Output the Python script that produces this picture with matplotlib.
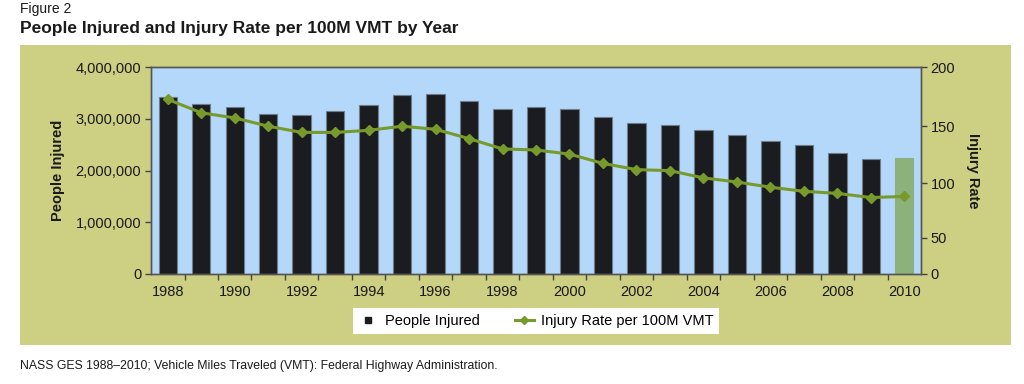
import matplotlib
matplotlib.use('Agg')
import matplotlib.pyplot as plt
from matplotlib.patches import Rectangle
from matplotlib.lines import Line2D
from matplotlib.ticker import FuncFormatter

plt.rcParams['font.family'] = ['Liberation Sans', 'DejaVu Sans']

years = list(range(1988, 2011))
injured = [3416000, 3284000, 3231000, 3097000, 3070000, 3149000, 3266000, 3465000,
           3483000, 3348000, 3192000, 3236000, 3189000, 3033000, 2926000, 2889000,
           2788000, 2699000, 2575000, 2491000, 2346000, 2217000, 2239000]
rate = [169, 156, 151, 143, 137, 137, 139, 143, 140, 131, 121, 120, 116, 107,
        101, 100, 93, 89, 84, 80, 78, 74, 75]
year_labels = [str(y) for y in years[::2]]
rate_ticks = [0, 35.1, 87.8, 142.9, 200]
rate_tick_labels = ['0', '50', '100', '150', '200']

panel = '#cdcf82'
sky = '#b3d8fa'
bar_dark = '#1b1c20'
bar_last = '#8db17a'
line_green = '#789a2c'
txt = '#1a1a1a'
fs = 10.5

fig = plt.figure(figsize=(10.24, 3.84), dpi=100)
fig.patches.append(Rectangle((0.0195, 0.1016), 0.9675, 0.7812, transform=fig.transFigure,
                             facecolor=panel, edgecolor='none', zorder=-5))

ax = fig.add_axes([0.1475, 0.2865, 0.7519, 0.5382])
ax.set_facecolor(sky)
colors = [bar_dark] * (len(years) - 1) + [bar_last]
edges = ['#6f7c8a'] * (len(years) - 1) + [bar_last]
ax.bar(years, injured, width=0.55, color=colors, edgecolor=edges, linewidth=0.8, zorder=2)
ax.set_xlim(1987.5, 2010.5)
ax.set_ylim(0, 4000000)
ax.set_yticks([0, 1000000, 2000000, 3000000, 4000000])
ax.yaxis.set_major_formatter(FuncFormatter(lambda v, p: f'{int(v):,}'))
ax.set_xticks(years[::2])
ax.set_xticklabels(year_labels)
ax.set_xticks([y + 0.5 for y in years[:-1]], minor=True)
ax.tick_params(axis='x', which='major', length=0, pad=8, labelsize=fs, colors=txt)
ax.tick_params(axis='x', which='minor', length=4, width=1, color='#444444', direction='out')
ax.tick_params(axis='y', length=4, width=1, color='#444444', labelsize=fs, labelcolor=txt, pad=3)
for s in ax.spines.values():
    s.set_color('#555555')
    s.set_linewidth(1)
ax.set_ylabel('People Injured', fontsize=fs, fontweight='bold', color=txt, labelpad=8)

ax2 = ax.twinx()
ax2.plot(years, rate, color=line_green, linewidth=2.2, marker='D', markersize=5.5,
         markerfacecolor=line_green, markeredgecolor=line_green, zorder=3)
ax2.set_ylim(0, 200)
ax2.set_yticks(rate_ticks)
ax2.set_yticklabels(rate_tick_labels)
ax2.tick_params(axis='y', length=4, width=1, color='#444444', labelsize=fs, labelcolor=txt, pad=3)
for s in ax2.spines.values():
    s.set_color('#555555')
    s.set_linewidth(1)
ax2.set_ylabel('Injury Rate', fontsize=fs, fontweight='bold', color=txt, rotation=-90, labelpad=18)

handles = [Line2D([], [], color=bar_dark, marker='s', linestyle='none', markersize=5),
           Line2D([], [], color=line_green, marker='D', linewidth=2.2, markersize=4)]
leg = fig.legend(handles, ['People Injured', 'Injury Rate per 100M VMT'], loc='center',
                 bbox_to_anchor=(0.5234, 0.164), ncol=2, frameon=True, fancybox=False,
                 fontsize=fs, handlelength=1.3, columnspacing=2.4, handletextpad=0.5,
                 borderpad=0.4, framealpha=1)
leg.get_frame().set_facecolor('white')
leg.get_frame().set_edgecolor('white')
leg.get_frame().set_linewidth(0)

fig.text(0.0195, 0.977, 'Figure 2', fontsize=10, color=txt, va='center', ha='left')
fig.text(0.0195, 0.925, 'People Injured and Injury Rate per 100M VMT by Year', fontsize=12.5,
         fontweight='bold', color=txt, va='center', ha='left')
fig.text(0.0195, 0.048, 'NASS GES 1988\u20132010; Vehicle Miles Traveled (VMT): Federal Highway Administration.',
         fontsize=8.8, color=txt, va='center', ha='left')

fig.savefig('out.png', dpi=100, facecolor='white')
